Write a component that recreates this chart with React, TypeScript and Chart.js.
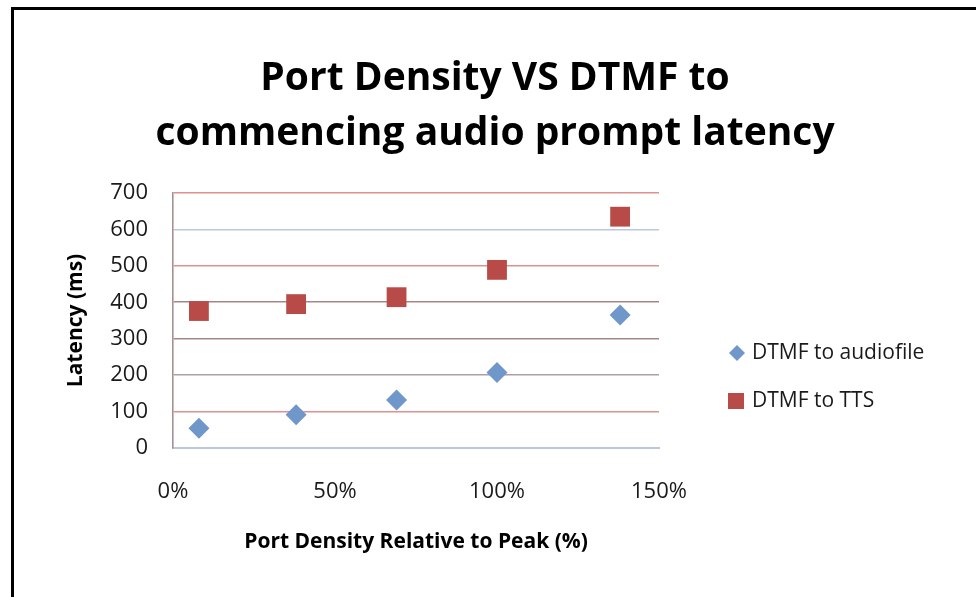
import React, { useEffect, useRef } from "react";
import { Chart, registerables } from "chart.js";

Chart.register(...registerables);

const titleLines = ["Port Density VS DTMF to", "commencing audio prompt latency"];
const xLabel = "Port Density Relative to Peak (%)";
const yLabel = "Latency (ms)";
const seriesNames = ["DTMF to audiofile", "DTMF to TTS"];
const portDensity = [8, 38, 69, 100, 138];
const audiofileLatency = [54, 91, 132, 207, 365];
const ttsLatency = [376, 395, 414, 489, 635];
const gridColors: Record<number, string> = {
  0: "#b9c8de",
  100: "#dc9290",
  200: "#ad9ea6",
  300: "#a48888",
  400: "#a48888",
  500: "#dc9290",
  600: "#b9c8de",
  700: "#dc9290",
};

const FONT = "'Open Sans', 'Noto Sans', sans-serif";

const framePlugin = {
  id: "frame",
  beforeDraw(chart: any) {
    const ctx = chart.ctx;
    ctx.save();
    ctx.fillStyle = "#ffffff";
    ctx.fillRect(0, 0, chart.width, chart.height);
    ctx.fillStyle = "#000000";
    ctx.fillRect(11, 7, 3, chart.height - 7);
    ctx.fillRect(11, 7, chart.width - 11, 3);
    ctx.restore();
  },
};

const titleLegendPlugin = {
  id: "titleLegend",
  afterDraw(chart: any) {
    const ctx = chart.ctx;
    ctx.save();
    ctx.fillStyle = "#000000";
    ctx.textAlign = "center";
    ctx.textBaseline = "middle";
    ctx.font = `bold 39px ${FONT}`;
    ctx.fillText(titleLines[0], 495, 79);
    ctx.fillText(titleLines[1], 495, 134);

    // legend
    const items = chart.data.datasets;
    const ys = [353, 401];
    items.forEach((ds: any, i: number) => {
      const y = ys[i];
      ctx.fillStyle = ds.backgroundColor;
      ctx.beginPath();
      if (ds.pointStyle === "rectRot") {
        ctx.moveTo(737 - 8, y);
        ctx.lineTo(737, y - 8);
        ctx.lineTo(737 + 8, y);
        ctx.lineTo(737, y + 8);
        ctx.closePath();
      } else {
        ctx.rect(728, y - 8, 16, 16);
      }
      ctx.fill();
      ctx.fillStyle = "#1a1a1a";
      ctx.textAlign = "left";
      ctx.font = `21px ${FONT}`;
      ctx.fillText(ds.label, 752, y);
    });
    ctx.restore();
  },
};

export default function App() {
  const ref = useRef<HTMLCanvasElement | null>(null);
  useEffect(() => {
    if (!ref.current) return;
    const chart = new Chart(ref.current, {
      type: "scatter",
      data: {
        datasets: [
          {
            label: seriesNames[0],
            data: portDensity.map((x, i) => ({ x, y: audiofileLatency[i] })),
            backgroundColor: "#6f97c9",
            borderColor: "#6f97c9",
            pointStyle: "rectRot",
            pointRadius: 10.5,
            borderWidth: 0,
          },
          {
            label: seriesNames[1],
            data: portDensity.map((x, i) => ({ x, y: ttsLatency[i] })),
            backgroundColor: "#b84a47",
            borderColor: "#b84a47",
            pointStyle: "rect",
            pointRadius: 14,
            borderWidth: 0,
          },
        ],
      },
      options: {
        responsive: false,
        animation: false,
        devicePixelRatio: 1,
        layout: { padding: { left: 14, top: 193, right: 317, bottom: 0 } },
        plugins: {
          legend: { display: false },
          title: { display: false },
          tooltip: { enabled: false },
        },
        scales: {
          x: {
            type: "linear",
            min: 0,
            max: 150,
            afterFit: (s: any) => {
              s.height = 149;
            },
            ticks: {
              stepSize: 50,
              padding: 31,
              color: "#1a1a1a",
              font: { family: FONT, size: 22 },
              callback: (v: any) => v + "%",
            },
            grid: { display: false, drawTicks: false },
            border: { display: true, color: "#b9c8de", width: 2 },
            title: {
              display: true,
              text: xLabel,
              color: "#000000",
              font: { family: FONT, size: 21, weight: "bold" },
              padding: { top: 0, bottom: 42 },
            },
          },
          y: {
            type: "linear",
            min: 0,
            max: 700,
            afterFit: (s: any) => {
              s.width = 159;
            },
            ticks: {
              stepSize: 100,
              padding: 25,
              color: "#1a1a1a",
              font: { family: FONT, size: 22 },
            },
            grid: {
              drawTicks: false,
              lineWidth: 1.6,
              color: (c: any) => gridColors[c.tick?.value] || "#b9c8de",
            },
            border: { display: true, color: "#a89090", width: 1.6 },
            title: {
              display: true,
              text: yLabel,
              color: "#000000",
              font: { family: FONT, size: 21, weight: "bold" },
              padding: { top: 49, bottom: 0 },
            },
          },
        },
      },
      plugins: [framePlugin, titleLegendPlugin],
    });
    return () => chart.destroy();
  }, []);
  return (
    <div style={{ position: "absolute", left: 0, top: 0, width: 976, height: 597 }}>
      <canvas ref={ref} width={976} height={597} />
    </div>
  );
}
